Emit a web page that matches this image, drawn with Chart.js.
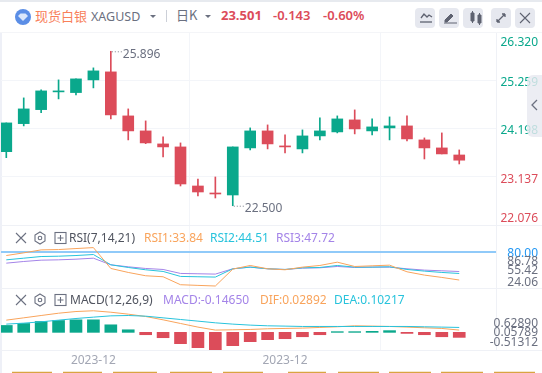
<!DOCTYPE html>
<html lang="zh"><head><meta charset="utf-8">
<script src="https://cdn.jsdelivr.net/npm/chart.js@4"></script>
<style>
html,body{margin:0;padding:0;background:#fff;overflow:hidden}
#stage{position:relative;width:542px;height:373px;overflow:hidden;font-family:"Noto Sans","Noto Sans CJK SC",sans-serif;background:#fff}
canvas{position:absolute;left:0;display:block}
.t{position:absolute;white-space:nowrap;line-height:16px;font-size:12px}
.ln{position:absolute;background:#eff1f6}
.btn{position:absolute;top:8px;width:20px;height:20px;border-radius:4px;background:#e6e8ef}
.ic{position:absolute;top:0;left:0}
</style></head><body>
<div id="stage">
<div class="ln" style="left:0;top:0;width:542px;height:2px;background:#e7eaef"></div>
<div class="ln" style="left:0;top:32px;width:2px;height:341px;background:#eef0f7"></div>
<svg class="ic" width="40" height="32" style="left:0;top:0"><circle cx="23" cy="17" r="8" fill="#5b8ee6"/><path d="M18 16l2.5-2.5h5L28 16l-5 5z" fill="#dbe7fb"/></svg>
<div class="t" style="left:35px;top:7px;font-size:13px;line-height:18px;color:#f8805a;font-family:'Noto Sans CJK SC'">现货白银</div>
<div class="t" style="left:91px;top:9px;font-size:12.5px;color:#6b7080">XAGUSD</div>
<svg class="ic" width="542" height="32"><path d="M150 15h6l-3 3z" fill="#6b7080"/><path d="M205 15h6l-3 3z" fill="#6b7080"/><path d="M166.500 10v12" stroke="#ccd0d8"/></svg>
<div class="t" style="left:176px;top:7px;font-size:13px;color:#6b7080;font-family:'Noto Sans CJK SC'">日K</div>
<div class="t" style="left:221px;top:7px;font-size:13px;font-weight:700;color:#dc4c5a">23.501</div>
<div class="t" style="left:273px;top:7px;font-size:13px;font-weight:600;color:#dc4c5a">-0.143</div>
<div class="t" style="left:323px;top:7px;font-size:13px;font-weight:600;color:#dc4c5a">-0.60%</div>
<div class="btn" style="left:415px"></div><div class="btn" style="left:439px"></div><div class="btn" style="left:463px"></div><div class="btn" style="left:491px"></div><div class="btn" style="left:515px"></div>
<svg class="ic" width="542" height="32">
<path d="M421 18l3-4 3 3 2-2 3 2" fill="none" stroke="#5e6270" stroke-width="1.300"/><path d="M420 22h12" stroke="#5e6270" stroke-width="1.300"/>
<path d="M445 20l6-6 2 2-6 6h-2zM444 23h13" fill="#5e6270" stroke="#5e6270"/>
<path d="M471 13h3v8h-3zM478 15h3v8h-3zM472.500 11v12M479.500 13v12" fill="#5e6270" stroke="#5e6270"/>
<path d="M497 22l8-8M497 22v-3M497 22h3M505 14h-3M505 14v3" stroke="#5e6270" fill="none" stroke-width="1.300"/>
<path d="M520 13l10 10M530 13l-10 10" stroke="#5e6270" stroke-width="1.100"/>
</svg>
<canvas id="c1" style="top:32px"></canvas>
<canvas id="c2" style="top:225px"></canvas>
<canvas id="c3" style="top:288px"></canvas>
<div class="ln" style="left:0;top:225px;width:542px;height:1px"></div>
<div class="ln" style="left:0;top:288px;width:542px;height:1px"></div>
<div class="ln" style="left:0;top:350px;width:542px;height:1px"></div>
<div class="ln" style="left:0;top:32px;width:542px;height:1px;background:#f4f5f8"></div>
<svg class="ic" width="542" height="373">
<g fill="none" stroke="#6b7080" stroke-width="1.100">
<path d="M16 233l10 10M26 233l-10 10"/><path d="M40 232l5 3v6l-5 3-5-3v-6z"/><circle cx="40" cy="238" r="1.800"/><rect x="55" y="232.500" width="11" height="11"/><path d="M57.500 238h6M60.500 235v6"/>
<path d="M16 295l10 10M26 295l-10 10"/><path d="M40 294l5 3v6l-5 3-5-3v-6z"/><circle cx="40" cy="300" r="1.800"/><rect x="55" y="294.500" width="11" height="11"/><path d="M57.500 300h6M60.500 297v6"/>
</g>
<g stroke="#d9a441" stroke-width="1.300">
<path d="M12 372.500h40M63 372.500h39M113 372.500h44M170 372.500h42M223 372.500h40M288 372.500h38M338 372.500h41M389 372.500h42M441 372.500h42M494 372.500h41"/>
</g>
</svg>
<div class="t" style="left:69px;top:230px;color:#50545f">RSI(7,14,21)</div>
<div class="t" style="left:144px;top:230px;color:#f9a45c">RSI1:33.84</div>
<div class="t" style="left:210px;top:230px;color:#28c3dc">RSI2:44.51</div>
<div class="t" style="left:276px;top:230px;color:#a484e8">RSI3:47.72</div>
<div class="t" style="left:70px;top:292px;color:#50545f">MACD(12,26,9)</div>
<div class="t" style="left:163px;top:292px;color:#a484e8">MACD:-0.14650</div>
<div class="t" style="left:260px;top:292px;color:#f9a45c">DIF:0.02892</div>
<div class="t" style="left:334px;top:292px;color:#28c3dc">DEA:0.10217</div>
<div style="position:absolute;left:527px;top:75px;width:15px;height:62px;background:rgba(232,233,240,.82);border-radius:6px 0 0 6px"></div>
<svg class="ic" width="542" height="373"><path d="M537 100l-5 5 5 5" fill="none" stroke="#6b7080" stroke-width="1.300"/></svg>
</div>
<script>
const opens =[23.689,24.305,24.613,25.003,24.988,25.267,25.443,24.475,24.145,23.859,23.793,22.934,22.780,22.736,23.771,24.145,23.815,23.749,24.035,24.123,24.387,24.145,24.211,24.255,23.947,23.771,23.616];
const highs =[24.321,24.871,25.047,25.267,25.289,25.531,25.896,24.629,24.365,24.013,23.881,23.088,23.132,23.793,24.211,24.277,24.057,24.167,24.431,24.475,24.607,24.409,24.453,24.475,23.991,24.101,23.727];
const lows  =[23.557,24.255,24.547,24.849,24.937,25.091,24.409,23.947,23.865,23.572,22.934,22.714,22.670,22.500,23.727,23.749,23.661,23.661,23.947,24.101,24.079,24.057,23.947,23.925,23.528,23.639,23.418];
const closes=[24.321,24.629,25.025,25.025,25.289,25.465,24.497,24.145,23.881,23.793,22.978,22.802,22.758,23.793,24.145,23.859,23.793,24.035,24.145,24.409,24.189,24.233,24.255,23.969,23.771,23.639,23.501];
const rsi1=[73.83,78.17,83.04,83.58,85.21,86.78,52.71,46.21,40.79,39.16,26.16,25.08,24.06,51.62,57.58,52.17,50.54,54.87,57.58,63.00,55.96,57.04,58.12,47.29,41.87,38.08,33.84];
const rsi2=[66.79,69.50,72.21,72.75,73.83,75.46,58.67,54.33,50.54,47.83,39.71,39.16,38.62,52.17,54.87,52.17,51.08,53.79,54.33,57.58,54.87,54.87,55.42,51.08,48.37,46.21,44.51];
const rsi3=[61.37,64.08,66.25,66.79,67.87,69.50,58.67,55.42,52.71,51.08,44.58,44.04,43.50,52.17,54.87,52.17,51.08,53.25,53.79,55.96,54.33,54.87,54.87,52.17,50.00,48.92,47.72];
const macdHist=[0.201,0.259,0.317,0.346,0.365,0.365,0.220,0.075,-0.069,-0.156,-0.330,-0.446,-0.513,-0.388,-0.272,-0.214,-0.185,-0.128,-0.069,0.020,0.020,0.030,0.050,-0.031,-0.069,-0.128,-0.1465];
const dif=[0.356,0.423,0.491,0.558,0.607,0.629,0.587,0.530,0.462,0.365,0.259,0.153,0.066,0.075,0.085,0.104,0.114,0.124,0.143,0.162,0.191,0.182,0.172,0.153,0.133,0.114,0.066];
const dea=[0.240,0.269,0.307,0.356,0.404,0.443,0.481,0.491,0.472,0.423,0.375,0.327,0.278,0.240,0.211,0.191,0.182,0.172,0.172,0.172,0.172,0.172,0.172,0.172,0.162,0.153,0.143];
const priceTicks=[26.320,25.259,24.198,23.137,22.076];
const rsiTicks=[80,86.78,55.42,24.06];
const macdTicks=[0.62890,0.05789,-0.51312];
const monthTickIndex=[5,16];
const monthLabel='2023-12';
const GREEN='#0aa88c',RED='#dc4c5a',ORANGE='#f9a45c',CYAN='#28c3dc',PURPLE='#a484e8',GRID='#f3f5f9',FONT='"Noto Sans"';
const XMIN=-0.304,XMAX=28.11,LABEL_RIGHT=538,LABEL_DY=1.5;
const pts=a=>a.map((y,x)=>({x,y}));
const noPad=s=>{s.paddingTop=0;s.paddingBottom=0;s.paddingLeft=0;s.paddingRight=0;};

function xScale(showLabels){return{type:'linear',offset:false,min:XMIN,max:XMAX,
  afterBuildTicks:s=>{s.ticks=monthTickIndex.map(value=>({value}))},
  afterFit:s=>{s.height=showLabels?23:0;noPad(s);},
  grid:{color:GRID,drawTicks:false},border:{display:false},
  ticks:{display:showLabels,autoSkip:false,maxRotation:0,padding:3,color:'#a3a7b4',font:{family:FONT,size:12},callback:()=>monthLabel}};}
function yScale(min,max,ticks,digits,offsets,color,gridColor,gridWidth){return{position:'right',min,max,
  afterBuildTicks:s=>{s.ticks=ticks.map(value=>({value}))},
  afterFit:s=>{s.width=46;noPad(s);},
  afterUpdate:s=>{if(s._labelsMoved)return;s._labelsMoved=true;s._computeLabelArea=()=>undefined;const o=s._computeLabelItems;s._computeLabelItems=function(a){const it=o.call(this,a);
    it.forEach((e,i)=>{e.options.translation=[LABEL_RIGHT,e.options.translation[1]+offsets[i]+LABEL_DY];e.options.textAlign='right';});return it;}},
  grid:{color:gridColor,lineWidth:gridWidth,drawTicks:false},border:{display:true,color:'#eff1f6'},
  ticks:{autoSkip:false,padding:0,color,font:{family:FONT,size:12},callback:v=>Number(v).toFixed(digits)}};}
const base=()=>({responsive:false,animation:false,events:[],layout:{autoPadding:false,padding:{left:1,right:0,top:0,bottom:0}},plugins:{legend:{display:false},tooltip:{enabled:false}}});
function make(id,h,datasets,scales,plugins){const c=document.getElementById(id);c.width=542;c.height=h;c.style.width='542px';c.style.height=h+'px';
  return new Chart(c,{type:'bar',data:{datasets},options:Object.assign(base(),{scales}),plugins:plugins||[]});}
const line=(data,color)=>({type:'line',data:pts(data),borderColor:color,borderWidth:1,pointRadius:0,tension:0,order:0});

const extremes={id:'extremes',afterDatasetsDraw(ch){const ctx=ch.ctx,{x,y}=ch.scales;
  const mark=(arr,fn,dy)=>{const v=fn(...arr),i=arr.indexOf(v),px=x.getPixelForValue(i),py=y.getPixelForValue(v);
    ctx.save();ctx.strokeStyle='#7a7e8a';ctx.setLineDash([1,2]);ctx.beginPath();ctx.moveTo(px+1,py+.5);ctx.lineTo(px+11,py+.5);ctx.stroke();ctx.setLineDash([]);
    ctx.fillStyle='#6b7080';ctx.font='12px '+FONT;ctx.textBaseline='middle';ctx.fillText(v.toFixed(3),px+12,py+dy);ctx.restore();};
  mark(highs,Math.max,3);mark(lows,Math.min,3);}};

make('c1',193,[
  {data:opens.map((o,i)=>({x:i,y:[lows[i],highs[i]]})),barThickness:1,grouped:false,backgroundColor:closes.map((c,i)=>c>=opens[i]?GREEN:RED),order:2},
  {data:opens.map((o,i)=>({x:i,y:[o,closes[i]]})),barThickness:11,grouped:false,backgroundColor:closes.map((c,i)=>c>=opens[i]?GREEN:RED),order:1}
],{x:xScale(false),y:yScale(22.076,26.320,priceTicks,3,[8.7,0.5,1,1,-8],c=>c.tick.value>23.5?GREEN:RED,GRID,1)},[extremes]);

make('c2',63,[line(rsi1,ORANGE),line(rsi2,CYAN),line(rsi3,PURPLE)],
 {x:xScale(false),y:yScale(20.81,123.67,rsiTicks,2,[0,12.3,2,-5.3],c=>c.tick.value===80?'#2196f3':'#6b7080',c=>c.tick.value===80?'#90caf9':'rgba(0,0,0,0)',2)});

make('c3',85,[
  {data:pts(macdHist),barThickness:12,grouped:false,backgroundColor:macdHist.map(v=>v>=0?GREEN:RED),order:2},
  line(dea,CYAN),line(dif,ORANGE)
],{x:xScale(true),y:yScale(-0.5143,1.2928,macdTicks,5,[11.4,0.7,-9],'#6b7080','rgba(0,0,0,0)',1)});
</script>
</body></html>
